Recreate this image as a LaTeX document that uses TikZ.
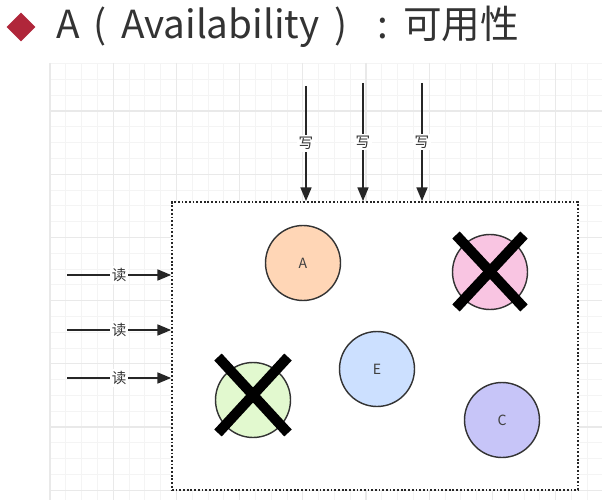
\documentclass[tikz,border=0pt]{standalone}
\usepackage{fontspec}
\setmainfont{Noto Sans CJK SC}
\usetikzlibrary{arrows.meta,shapes.geometric}
\definecolor{titlered}{HTML}{B0263A}
\definecolor{peachfill}{HTML}{FFD6B6}
\definecolor{pinkfill}{HTML}{F9C5E2}
\definecolor{greenfill}{HTML}{E2F9CF}
\definecolor{bluefill}{HTML}{CCE0FF}
\definecolor{lavfill}{HTML}{C7C5F8}

\begin{document}
\begin{tikzpicture}[
    x=0.02cm, y=-0.02cm,
    server/.style={draw=black!80, circle, line width=0.8pt, minimum size=1.5cm, inner sep=0pt, font=\fontsize{8pt}{9pt}\selectfont, text=black!75},
    arrow/.style={-{Triangle[length=7.8pt,width=6.2pt]}, line width=1.1pt, draw=black!85},
    lbl/.style={fill=white, inner sep=1.2pt, font=\fontsize{8.3pt}{9pt}\selectfont, text=black!80},
    cross/.style={line width=5.8pt, draw=black},
    zone/.style={draw=black!85, fill=white, line width=1pt, dash pattern=on 1pt off 1.1pt, minimum width=8.12cm, minimum height=5.76cm, inner sep=0pt},
    minorline/.style={draw=gray!9, line width=0.5pt},
    majorline/.style={draw=gray!17, line width=0.6pt}
]
    \useasboundingbox (0,0) rectangle (602,500);

    \foreach \gx in {50,65.8,...,602} \draw[minorline] (\gx,63) -- (\gx,500);
    \foreach \gy in {63.6,79.4,...,500} \draw[minorline] (50,\gy) -- (602,\gy);
    \foreach \gx in {50,113.2,...,602} \draw[majorline] (\gx,63) -- (\gx,500);
    \foreach \gy in {111,174.2,...,500} \draw[majorline] (50,\gy) -- (602,\gy);

    \node [diamond, fill=titlered, minimum size=0.58cm, inner sep=0pt] (mark) at (21,27) {};
    \node [anchor=base west, inner sep=0pt, text=black!80, font=\fontsize{22pt}{26pt}\selectfont] (title) at (56,39) {A\hspace{0.36em}(\hspace{0.37em}Availability\hspace{0.4em})\hspace{0.76em}:\hspace{0.39em}可用性};

    \node [zone] (zone) at (375,346) {};

    \coordinate (w1) at (306,86);
    \coordinate (w2) at (363,83);
    \coordinate (w3) at (422,83);
    \coordinate (r1) at (67,275);
    \coordinate (r2) at (67,330);
    \coordinate (r3) at (67,378);

    \draw [arrow] (w1) -- node[lbl] {写} (w1 |- zone.north);
    \draw [arrow] (w2) -- node[lbl] {写} (w2 |- zone.north);
    \draw [arrow] (w3) -- node[lbl] {写} (w3 |- zone.north);
    \draw [arrow] (r1) -- node[lbl] {读} (r1 -| zone.west);
    \draw [arrow] (r2) -- node[lbl] {读} (r2 -| zone.west);
    \draw [arrow] (r3) -- node[lbl] {读} (r3 -| zone.west);

    \node [server, fill=peachfill] (A) at (303,263) {A};
    \node [server, fill=pinkfill] (B) at (490,272) {};
    \node [server, fill=greenfill] (D) at (253,400) {};
    \node [server, fill=bluefill] (E) at (377,369) {E};
    \node [server, fill=lavfill] (C) at (502,420) {C};

    \draw [cross] (B) ++(-34,-37) -- ++(68,73);
    \draw [cross] (B) ++(34,-37) -- ++(-68,73);
    \draw [cross] (D) ++(-35,-43) -- ++(70,76);
    \draw [cross] (D) ++(35,-43) -- ++(-70,76);

\end{tikzpicture}
\end{document}
